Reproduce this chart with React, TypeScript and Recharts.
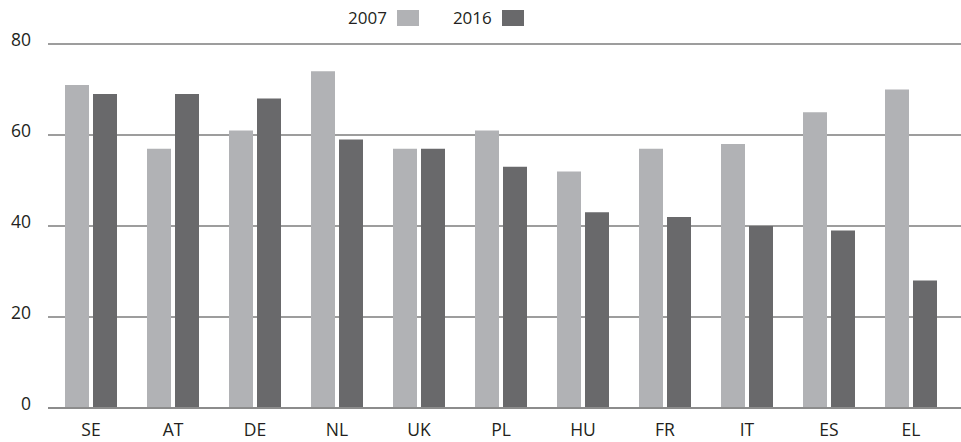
import { BarChart, Bar, XAxis, YAxis, CartesianGrid } from 'recharts';

const countries = ['SE', 'AT', 'DE', 'NL', 'UK', 'PL', 'HU', 'FR', 'IT', 'ES', 'EL'];
const values2007 = [71, 57, 61, 74, 57, 61, 52, 57, 58, 65, 70];
const values2016 = [69, 69, 68, 59, 57, 53, 43, 42, 40, 39, 28];
const yTicks = [0, 20, 40, 60, 80];

const series = [
    { key: 'y2007', name: '2007', color: '#b1b2b5' },
    { key: 'y2016', name: '2016', color: '#69696b' },
];

const chartData = countries.map((c, i) => ({
    country: c,
    y2007: values2007[i],
    y2016: values2016[i],
}));

const FONT = '"Open Sans", "Noto Sans", sans-serif';

export default function App() {
    return (
        <div style={{ position: 'absolute', left: 0, top: 0, width: 961, height: 442, fontFamily: FONT, background: '#fff' }}>
            {/* legend sits above the plot, centred over the middle of the chart */}
            <div style={{ position: 'absolute', top: 6, left: 348, display: 'flex', alignItems: 'center', fontSize: 17, color: '#231f20' }}>
                {series.map((s, i) => (
                    <div key={s.key} style={{ display: 'flex', alignItems: 'center', marginLeft: i === 0 ? 0 : 34 }}>
                        <span style={{ lineHeight: '24px' }}>{s.name}</span>
                        <span style={{ display: 'inline-block', width: 22, height: 16, background: s.color, marginLeft: 10 }} />
                    </div>
                ))}
            </div>
            <BarChart
                width={961}
                height={442}
                data={chartData}
                margin={{ top: 44, right: 0, bottom: 4, left: 0 }}
                barSize={24}
                barGap={4}
            >
                <CartesianGrid vertical={false} stroke="#3c3c3c" strokeWidth={1.2} />
                <XAxis
                    dataKey="country"
                    height={30}
                    axisLine={{ stroke: '#8c8c8c', strokeWidth: 2 }}
                    tickLine={false}
                    tickSize={0}
                    tickMargin={16}
                    padding={{ left: 2, right: 9 }}
                    interval={0}
                    tick={{ fill: '#231f20', fontSize: 17.5, fontFamily: FONT }}
                />
                <YAxis
                    width={48}
                    domain={[0, 80]}
                    ticks={yTicks}
                    axisLine={false}
                    tickLine={false}
                    tickSize={0}
                    tickMargin={17}
                    tick={{ fill: '#231f20', fontSize: 17.5, fontFamily: FONT, dy: -4 }}
                />
                {series.map((s) => (
                    <Bar key={s.key} dataKey={s.key} name={s.name} fill={s.color} isAnimationActive={false} />
                ))}
            </BarChart>
        </div>
    );
}
